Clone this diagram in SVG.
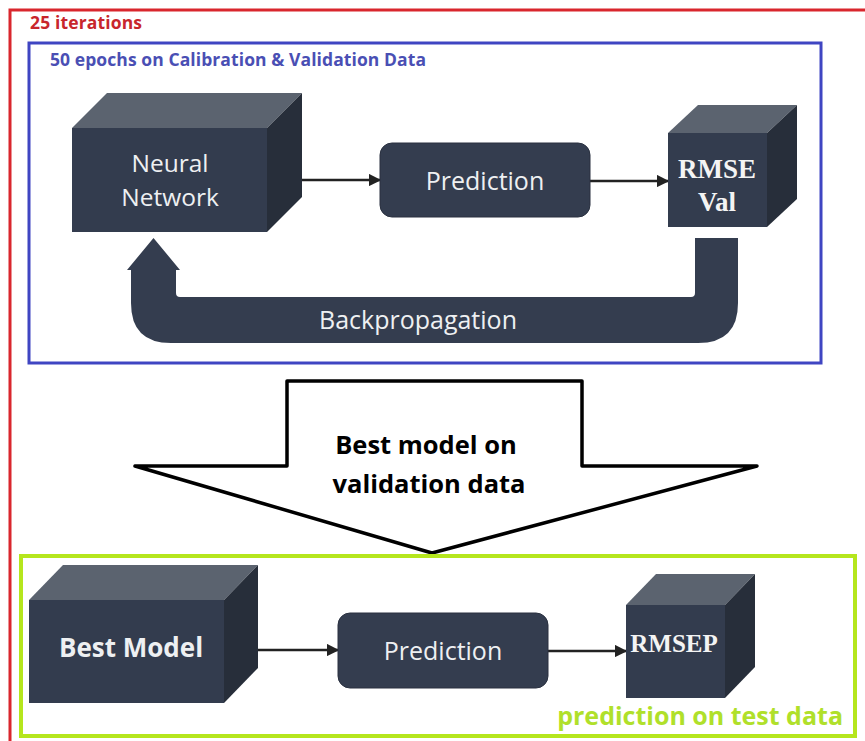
<svg xmlns="http://www.w3.org/2000/svg" width="865" height="741" viewBox="0 0 865 741">
  <defs>
    <style>
      .front { fill: #333c4e; }
      .top { fill: #5b636f; }
      .side { fill: #272e3a; }
      .box { fill: #343d4f; stroke: #2a3140; stroke-width: 1; }
      .lbl { font-family: "Open Sans", "Liberation Sans", sans-serif; fill: #eef0f2; text-anchor: middle; }
      .serif { font-family: "Liberation Serif", "Times New Roman", serif; font-weight: bold; fill: #f4f4f4; text-anchor: middle; }
      .conn { stroke: #222; stroke-width: 2.5; fill: none; marker-end: url(#ah); }
    </style>
    <marker id="ah" viewBox="0 0 10 10" refX="9" refY="5" markerWidth="5" markerHeight="5" orient="auto" markerUnits="strokeWidth">
      <path d="M0,0 L10,5 L0,10 Z" fill="#222"/>
    </marker>
  </defs>
  <rect width="865" height="741" fill="#ffffff"/>

  <!-- frames -->
  <g id="outer-frame">
    <rect x="10" y="10" width="900" height="800" fill="none" stroke="#d9262d" stroke-width="3"/>
    <text x="30" y="29" font-family="Open Sans, Liberation Sans, sans-serif" font-weight="bold" font-size="17.5" fill="#c8262c" textLength="112">25 iterations</text>
  </g>
  <g id="epoch-frame">
    <rect x="29" y="43" width="792" height="320" fill="none" stroke="#3f45c2" stroke-width="3"/>
    <text x="50" y="66" font-family="Open Sans, Liberation Sans, sans-serif" font-weight="bold" font-size="17.5" fill="#4a4fb4" textLength="376">50 epochs on Calibration &amp; Validation Data</text>
  </g>

  <!-- connectors -->
  <g id="connectors">
    <line class="conn" x1="267" y1="180" x2="380" y2="180"/>
    <line class="conn" x1="590" y1="181" x2="668" y2="181"/>
    <line class="conn" x1="224" y1="650" x2="338" y2="650"/>
    <line class="conn" x1="548" y1="651" x2="626" y2="651"/>
    <g id="backprop">
      <path d="M695 238 L738 238 L738 303 Q738 343 698 343 L171 343 Q131 343 131 303 L131 270 L127 270 L153.5 238 L180 270 L176 270 L176 293 Q176 297 180 297 L691 297 Q695 297 695 293 Z" fill="#343d4f"/>
      <text class="lbl" x="418" y="329" font-size="25">Backpropagation</text>
    </g>
    <g id="best-arrow">
      <polygon points="287,381 582,381 582,466 757,466 432,553 135,466 287,466" fill="#ffffff" stroke="#000" stroke-width="3.5" stroke-linejoin="round"/>
      <text x="426" y="454" font-family="Open Sans, Liberation Sans, sans-serif" font-weight="bold" font-size="25.5" fill="#000" text-anchor="middle">Best model on</text>
      <text x="429" y="493" font-family="Open Sans, Liberation Sans, sans-serif" font-weight="bold" font-size="25.5" fill="#000" text-anchor="middle">validation data</text>
    </g>
  </g>

  <!-- nodes top -->
  <g id="neural-network">
    <polygon class="top" points="72,128 107,93 302,93 267,128"/>
    <polygon class="side" points="267,128 302,93 302,197 267,232"/>
    <rect class="front" x="72" y="128" width="195" height="104"/>
    <text class="lbl" x="170" y="172" font-size="24.5">Neural</text>
    <text class="lbl" x="170" y="206" font-size="24.5">Network</text>
  </g>
  <g id="prediction-1">
    <rect class="box" x="380" y="143" width="210" height="74" rx="12"/>
    <text class="lbl" x="485" y="190" font-size="25">Prediction</text>
  </g>
  <g id="rmse-val">
    <polygon class="top" points="668,133 698,105 797,105 767,133"/>
    <polygon class="side" points="767,133 797,105 797,199 767,227"/>
    <rect class="front" x="668" y="133" width="99" height="94"/>
    <text class="serif" x="717" y="178" font-size="27">RMSE</text>
    <text class="serif" x="717" y="211" font-size="27">Val</text>
  </g>

  <!-- bottom frame -->
  <g id="test-frame">
    <rect x="21" y="556" width="834" height="180" fill="none" stroke="#b5e61d" stroke-width="4"/>
    <text x="843" y="725" font-family="Open Sans, Liberation Sans, sans-serif" font-weight="bold" font-size="25" fill="#b0e02a" text-anchor="end">prediction on test data</text>
  </g>
  <g id="best-model">
    <polygon class="top" points="29,600 63,565 258,565 224,600"/>
    <polygon class="side" points="224,600 258,565 258,668 224,703"/>
    <rect class="front" x="29" y="600" width="195" height="103"/>
    <text class="lbl" x="131" y="657" font-size="26" font-weight="bold">Best Model</text>
  </g>
  <g id="prediction-2">
    <rect class="box" x="338" y="613" width="210" height="75" rx="12"/>
    <text class="lbl" x="443" y="660" font-size="25">Prediction</text>
  </g>
  <g id="rmsep">
    <polygon class="top" points="626,605 656,574 755,574 725,605"/>
    <polygon class="side" points="725,605 755,574 755,667 725,698"/>
    <rect class="front" x="626" y="605" width="99" height="93"/>
    <text class="serif" x="674" y="652" font-size="25">RMSEP</text>
  </g>
</svg>
